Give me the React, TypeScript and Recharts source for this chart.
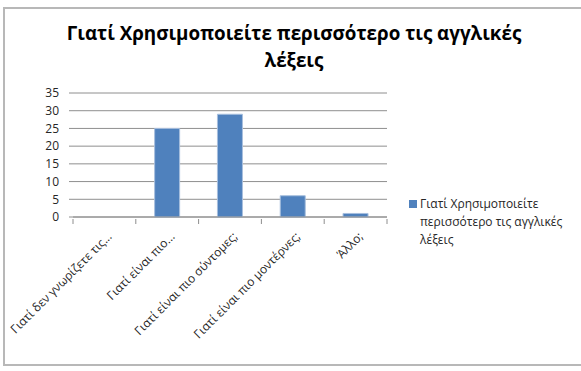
import { BarChart, Bar, XAxis, YAxis, CartesianGrid, Legend } from "recharts";

const categories = [
    "Γιατί δεν γνωρίζετε τις...",
    "Γιατί είναι πιο...",
    "Γιατί είναι πιο σύντομες;",
    "Γιατί είναι πιο μοντέρνες;",
    "Άλλο;",
];
const values = [0, 25, 29, 6, 1];
const yTicks = [0, 5, 10, 15, 20, 25, 30, 35];
const seriesName = "Γιατί Χρησιμοποιείτε περισσότερο τις αγγλικές λέξεις";
const titleLines = ["Γιατί Χρησιμοποιείτε περισσότερο τις αγγλικές", "λέξεις"];
const legendLines = ["Γιατί Χρησιμοποιείτε", "περισσότερο τις αγγλικές", "λέξεις"];

const data = categories.map((name, i) => ({ name, value: values[i] }));

const FONT = "'Open Sans', 'Noto Sans', sans-serif";
const GRID = "#8e8e8e";
const BAR = "#4f81bd";

const PLOT_LEFT = 73;
const PLOT_RIGHT = 387;
const HALF_BAND = (PLOT_RIGHT - PLOT_LEFT) / categories.length / 2;

const CategoryTick = (props: any) => {
    const { x, y, payload, index } = props;
    const last = index === categories.length - 1;
    const ax = x + 5;
    const ay = y + 15;
    return (
        <g>
            <line x1={x - HALF_BAND} x2={x - HALF_BAND} y1={y} y2={y + 5} stroke={GRID} />
            {last && <line x1={x + HALF_BAND} x2={x + HALF_BAND} y1={y} y2={y + 5} stroke={GRID} />}
            <text
                x={ax}
                y={ay}
                transform={`rotate(-45 ${ax} ${ay})`}
                textAnchor="end"
                dominantBaseline="central"
                fontSize={12}
                fontFamily={FONT}
                fill="#262626"
            >
                {payload.value}
            </text>
        </g>
    );
};

const renderLegend = () => (
    <div style={{ fontFamily: FONT, fontSize: 12, color: "#262626", lineHeight: "18px", position: "relative" }}>
        <span
            style={{ position: "absolute", left: 0, top: 5, width: 8, height: 8, backgroundColor: BAR }}
        />
        <div style={{ marginLeft: 11 }}>
            {legendLines.map((l, i) => (
                <div key={i}>{l}</div>
            ))}
        </div>
    </div>
);

export default function App() {
    return (
        <div style={{ position: "absolute", left: 0, top: 0, width: 581, height: 371, background: "#fff" }}>
            <div
                style={{
                    position: "absolute",
                    left: 3,
                    top: 7,
                    width: 590,
                    height: 359,
                    border: "2px solid #b8b8b8",
                    boxSizing: "border-box",
                }}
            />
            <div
                style={{
                    position: "absolute",
                    left: 0,
                    top: 20,
                    width: 588,
                    textAlign: "center",
                    fontFamily: FONT,
                    fontWeight: 700,
                    fontSize: 18.8,
                    lineHeight: "27px",
                    color: "#000",
                }}
            >
                {titleLines.map((l, i) => (
                    <div key={i}>{l}</div>
                ))}
            </div>
            <BarChart
                width={581}
                height={371}
                data={data}
                margin={{ top: 93, right: 581 - PLOT_RIGHT, bottom: 0, left: 33 }}
                barCategoryGap="30%"
                style={{ position: "absolute", left: 0, top: 0 }}
            >
                <CartesianGrid vertical={false} stroke={GRID} strokeWidth={1} />
                <XAxis
                    dataKey="name"
                    axisLine={{ stroke: GRID }}
                    tickLine={false}
                    tickSize={0}
                    interval={0}
                    tick={<CategoryTick />}
                    height={371 - 217}
                />
                <YAxis
                    domain={[0, 35]}
                    ticks={yTicks}
                    width={40}
                    axisLine={false}
                    tickLine={{ stroke: GRID }}
                    tickSize={4}
                    tickMargin={10}
                    tick={{ fontSize: 12, fontFamily: FONT, fill: "#262626" }}
                    interval={0}
                />
                <Bar
                    dataKey="value"
                    name={seriesName}
                    fill={BAR}
                    stroke="#a7bfde"
                    strokeWidth={1}
                    isAnimationActive={false}
                />
                <Legend
                    content={renderLegend}
                    layout="vertical"
                    verticalAlign="middle"
                    align="center"
                    wrapperStyle={{ left: 409, top: 195, width: 170 }}
                />
            </BarChart>
        </div>
    );
}
